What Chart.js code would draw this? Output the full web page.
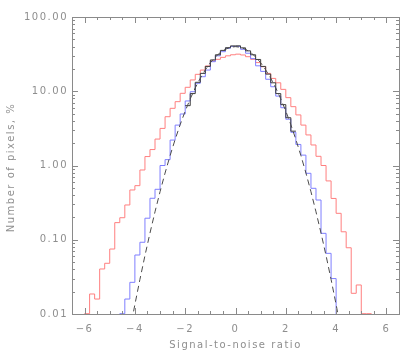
<!DOCTYPE html>
<html>
<head>
<meta charset="utf-8">
<script src="https://cdn.jsdelivr.net/npm/chart.js@4.4.1/dist/chart.umd.min.js"></script>
<style>
  html, body { margin: 0; padding: 0; background: #ffffff; }
  #wrap { width: 415px; height: 356px; }
</style>
</head>
<body>
<div id="wrap"><canvas id="chart" width="415" height="356"></canvas></div>
<script>
// histogram bins, 0.2 wide, values in % per unit
const binWidth = 0.2;

const redStart = -6.0;
const redValues = [
  0.0101, 0.0186, 0.0159, 0.0404, 0.0482, 0.075, 0.170, 0.198, 0.294, 0.468,
  0.535, 0.87, 1.32, 1.64, 2.27, 3.16, 4.54, 5.89, 7.24, 9.38,
  11.3, 14.2, 16.9, 19.3, 21.9, 25.5, 26.9, 28.6, 30.0, 31.0,
  31.6, 30.8, 29.2, 26.9, 24.3, 21.4, 17.4, 14.9, 13.0, 10.6,
  8.2, 6.2, 4.8, 3.5, 2.58, 1.89, 1.33, 1.0, 0.62, 0.36,
  0.227, 0.128, 0.078, 0.019, 0.0246, 0.0101, 0.0101
];

const blueStart = -4.6;
const blueValues = [
  0.0101, 0.0159, 0.0267, 0.0623, 0.0925, 0.195, 0.362, 0.478, 1.0, 1.2,
  2.2, 3.5, 4.94, 7.4, 9.86, 12.8, 15.7, 19.3, 25.0, 30.0,
  34.1, 37.9, 40.2, 40.2, 36.7, 32.5, 27.5, 22.0, 18.5, 14.5,
  11.5, 8.6, 6.0, 4.2, 2.8, 1.92, 1.38, 0.785, 0.493, 0.343,
  0.122, 0.0656, 0.030
];

const darkStart = -2.0;
const darkValues = [
  6.4, 9.3, 13.2, 17.4, 21.6, 26.4, 31.0, 35.5, 38.6, 40.8,
  40.9, 38.4, 35.0, 31.0, 26.8, 21.6, 17.0, 13.0, 9.3, 6.6,
  4.4, 2.9
];

// dashed reference curve
const curveX = [
  -4.2, -4.0, -3.8, -3.6, -3.4, -3.2, -3.0, -2.8, -2.6, -2.4, -2.2,
  -2.0, -1.8, -1.6, -1.4, -1.2, -1.0, -0.8, -0.6, -0.4, -0.2, 0.0,
  0.2, 0.4, 0.6, 0.8, 1.0, 1.2, 1.4, 1.6, 1.8, 2.0,
  2.2, 2.4, 2.6, 2.8, 3.0, 3.2, 3.4, 3.6, 3.8, 4.0, 4.2
];
const curveY = [
  0.0059, 0.0134, 0.0292, 0.0612, 0.123, 0.238, 0.443, 0.792, 1.36, 2.24, 3.55,
  5.40, 7.90, 11.1, 15.0, 19.4, 24.2, 29.0, 33.3, 36.8, 39.1, 39.9,
  39.1, 36.8, 33.3, 29.0, 24.2, 19.4, 15.0, 11.1, 7.90, 5.40,
  3.55, 2.24, 1.36, 0.792, 0.443, 0.238, 0.123, 0.0612, 0.0292, 0.0134, 0.0059
];

const xTicks = [-6, -4, -2, 0, 2, 4, 6];
const xTickLabels = ['\u22126', '\u22124', '\u22122', '0', '2', '4', '6'];
const yTicks = [0.01, 0.1, 1, 10, 100];
const yTickLabels = ['0.01', '0.10', '1.00', '10.00', '100.00'];

const xTitle = 'Signal-to-noise ratio';
const yTitle = 'Number of pixels, %';

const axisColor = '#8a8a8a';
const textColor = '#8e8e8e';
const font = '10px "DejaVu Sans"';
const belowAxis = 0.001;

// step outline; drop = close the ends down to the axis
function histPoints(start, values, drop) {
  const pts = [];
  if (drop) pts.push({x: start, y: belowAxis});
  values.forEach((v, i) => pts.push({x: start + i * binWidth, y: v}));
  pts.push({x: start + values.length * binWidth, y: drop ? belowAxis : values[values.length - 1]});
  return pts;
}

const idlAxes = {
  id: 'idlAxes',
  afterDatasetsDraw(chart) {
    const {ctx, chartArea: a} = chart;
    const xs = chart.scales.x, ys = chart.scales.y;
    ctx.save();
    ctx.strokeStyle = axisColor;
    ctx.lineWidth = 1;
    ctx.strokeRect(a.left + 0.5, a.top + 0.5, a.right - a.left, a.bottom - a.top);

    ctx.beginPath();
    for (let v = -6.5; v <= 6.5001; v += 0.5) {
      const major = xTicks.some(t => Math.abs(t - v) < 1e-6);
      const len = major ? 6 : 3;
      const px = Math.round(xs.getPixelForValue(v)) + 0.5;
      ctx.moveTo(px, a.bottom); ctx.lineTo(px, a.bottom - len);
      ctx.moveTo(px, a.top); ctx.lineTo(px, a.top + len);
    }
    [0.01, 0.1, 1, 10].forEach(d => {
      for (let m = 1; m <= 10; m++) {
        const v = d * m;
        const major = m === 1 || m === 10;
        const len = major ? 6 : 3;
        const py = Math.round(ys.getPixelForValue(v)) + 0.5;
        ctx.moveTo(a.left, py); ctx.lineTo(a.left + len, py);
        ctx.moveTo(a.right, py); ctx.lineTo(a.right - len, py);
      }
    });
    ctx.stroke();

    ctx.fillStyle = textColor;
    ctx.font = font;
    ctx.letterSpacing = '1.5px';
    ctx.textBaseline = 'middle';
    ctx.textAlign = 'center';
    xTicks.forEach((v, i) => {
      ctx.fillText(xTickLabels[i], xs.getPixelForValue(v), a.bottom + 15);
    });
    ctx.textAlign = 'right';
    yTicks.forEach((v, i) => {
      ctx.fillText(yTickLabels[i], a.left - 4, ys.getPixelForValue(v));
    });

    ctx.textAlign = 'center';
    ctx.fillText(xTitle, (a.left + a.right) / 2, a.bottom + 31);
    ctx.translate(11, (a.top + a.bottom) / 2 + 2);
    ctx.rotate(-Math.PI / 2);
    ctx.fillText(yTitle, 0, 0);
    ctx.restore();
  }
};

const line = (color, width) => ({
  borderColor: color,
  borderWidth: width,
  pointRadius: 0,
  fill: false,
  tension: 0
});

new Chart(document.getElementById('chart'), {
  type: 'line',
  data: {
    datasets: [
      {
        ...line('#4a4a4a', 1),
        borderDash: [6, 4],
        data: curveX.map((x, i) => ({x: x, y: curveY[i]}))
      },
      {...line('#3c3c3c', 1), stepped: true, data: histPoints(darkStart, darkValues, false)},
      {...line('#7f7fff', 1), stepped: true, data: histPoints(blueStart, blueValues, true)},
      {...line('#ff7f7f', 1), stepped: true, data: histPoints(redStart, redValues, true)}
    ]
  },
  options: {
    responsive: false,
    animation: false,
    events: [],
    layout: {padding: {left: 72, right: 16, top: 17, bottom: 42}},
    plugins: {legend: {display: false}, tooltip: {enabled: false}},
    scales: {
      x: {type: 'linear', min: -6.5, max: 6.5, display: false},
      y: {type: 'logarithmic', min: 0.01, max: 100, display: false}
    }
  },
  plugins: [idlAxes]
});
</script>
</body>
</html>
